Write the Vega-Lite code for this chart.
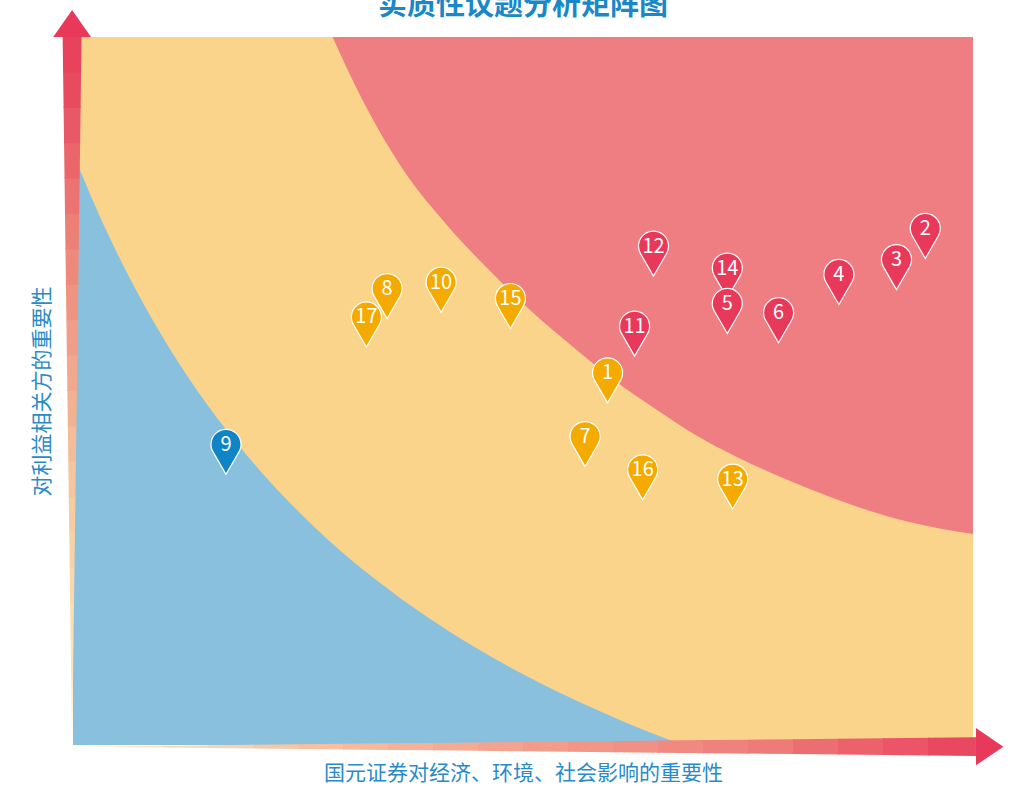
{
  "$schema": "https://vega.github.io/schema/vega-lite/v6.json",
  "width": 900,
  "height": 708,
  "autosize": {"type": "none"},
  "padding": {"left": 73, "top": 37, "right": 44, "bottom": 41},
  "background": "white",
  "config": {
    "view": {"stroke": null},
    "axis": {
      "domain": false,
      "ticks": false,
      "labels": false,
      "grid": false,
      "titleFont": "Noto Sans CJK SC",
      "titleFontSize": 21,
      "titleFontWeight": "normal",
      "titleColor": "#2a8ac8"
    },
    "axisX": {"titlePadding": 17},
    "axisY": {"titlePadding": 21}
  },
  "datasets": {
    "red": [
      {"x": 28.83, "y": 100},
      {"x": 32.11, "y": 91.24},
      {"x": 36.78, "y": 81.07},
      {"x": 41.44, "y": 73.59},
      {"x": 47.11, "y": 65.96},
      {"x": 50.78, "y": 61.44},
      {"x": 55.44, "y": 56.36},
      {"x": 60.11, "y": 51.55},
      {"x": 64.89, "y": 47.32},
      {"x": 69.56, "y": 43.5},
      {"x": 74.22, "y": 40.4},
      {"x": 78.89, "y": 37.71},
      {"x": 83.56, "y": 35.31},
      {"x": 88.22, "y": 33.19},
      {"x": 92.89, "y": 31.5},
      {"x": 100, "y": 29.8}
    ],
    "blue": [
      {"x": 0, "y": 83.69},
      {"x": 0.78, "y": 81.21},
      {"x": 3.0, "y": 74.62},
      {"x": 5.78, "y": 67.23},
      {"x": 8.56, "y": 60.68},
      {"x": 11.33, "y": 54.8},
      {"x": 14.11, "y": 49.49},
      {"x": 18.0, "y": 42.94},
      {"x": 22.44, "y": 36.4},
      {"x": 28.0, "y": 29.39},
      {"x": 33.56, "y": 23.43},
      {"x": 39.11, "y": 18.28},
      {"x": 44.67, "y": 13.79},
      {"x": 50.22, "y": 9.84},
      {"x": 55.78, "y": 6.34},
      {"x": 61.33, "y": 3.22},
      {"x": 67.78, "y": 0}
    ],
    "yarrow": [
      {"seg": "y00", "Y": -0.2, "lo": -0.1, "hi": -0.1},
      {"seg": "y00", "Y": 5.15, "lo": -0.156, "hi": -0.044},
      {"seg": "y01", "Y": 5, "lo": -0.155, "hi": -0.046},
      {"seg": "y01", "Y": 10.15, "lo": -0.209, "hi": 0.009},
      {"seg": "y02", "Y": 10, "lo": -0.207, "hi": 0.007},
      {"seg": "y02", "Y": 15.15, "lo": -0.261, "hi": 0.061},
      {"seg": "y03", "Y": 15, "lo": -0.259, "hi": 0.059},
      {"seg": "y03", "Y": 20.15, "lo": -0.313, "hi": 0.113},
      {"seg": "y04", "Y": 20, "lo": -0.312, "hi": 0.112},
      {"seg": "y04", "Y": 25.15, "lo": -0.366, "hi": 0.166},
      {"seg": "y05", "Y": 25, "lo": -0.364, "hi": 0.164},
      {"seg": "y05", "Y": 30.15, "lo": -0.418, "hi": 0.218},
      {"seg": "y06", "Y": 30, "lo": -0.417, "hi": 0.217},
      {"seg": "y06", "Y": 35.15, "lo": -0.47, "hi": 0.27},
      {"seg": "y07", "Y": 35, "lo": -0.469, "hi": 0.269},
      {"seg": "y07", "Y": 40.15, "lo": -0.523, "hi": 0.323},
      {"seg": "y08", "Y": 40, "lo": -0.521, "hi": 0.321},
      {"seg": "y08", "Y": 45.15, "lo": -0.575, "hi": 0.375},
      {"seg": "y09", "Y": 45, "lo": -0.574, "hi": 0.374},
      {"seg": "y09", "Y": 50.15, "lo": -0.628, "hi": 0.428},
      {"seg": "y10", "Y": 50, "lo": -0.626, "hi": 0.426},
      {"seg": "y10", "Y": 55.15, "lo": -0.68, "hi": 0.48},
      {"seg": "y11", "Y": 55, "lo": -0.678, "hi": 0.478},
      {"seg": "y11", "Y": 60.15, "lo": -0.732, "hi": 0.532},
      {"seg": "y12", "Y": 60, "lo": -0.731, "hi": 0.531},
      {"seg": "y12", "Y": 65.15, "lo": -0.785, "hi": 0.585},
      {"seg": "y13", "Y": 65, "lo": -0.783, "hi": 0.583},
      {"seg": "y13", "Y": 70.15, "lo": -0.837, "hi": 0.637},
      {"seg": "y14", "Y": 70, "lo": -0.836, "hi": 0.636},
      {"seg": "y14", "Y": 75.15, "lo": -0.89, "hi": 0.69},
      {"seg": "y15", "Y": 75, "lo": -0.888, "hi": 0.688},
      {"seg": "y15", "Y": 80.15, "lo": -0.942, "hi": 0.742},
      {"seg": "y16", "Y": 80, "lo": -0.94, "hi": 0.74},
      {"seg": "y16", "Y": 85.15, "lo": -0.994, "hi": 0.794},
      {"seg": "y17", "Y": 85, "lo": -0.993, "hi": 0.793},
      {"seg": "y17", "Y": 90.15, "lo": -1.047, "hi": 0.847},
      {"seg": "y18", "Y": 90, "lo": -1.045, "hi": 0.845},
      {"seg": "y18", "Y": 95.15, "lo": -1.099, "hi": 0.899},
      {"seg": "y19", "Y": 95, "lo": -1.098, "hi": 0.898},
      {"seg": "y19", "Y": 100, "lo": -1.15, "hi": 0.95},
      {"seg": "yh", "Y": 100, "lo": -2.2, "hi": 2.0},
      {"seg": "yh", "Y": 103.8, "lo": -0.1, "hi": -0.1}
    ],
    "xarrow": [
      {"seg": "x00", "X": 0, "lo": -0.23, "hi": -0.23},
      {"seg": "x00", "X": 5.15, "lo": -0.298, "hi": -0.162},
      {"seg": "x01", "X": 5, "lo": -0.296, "hi": -0.164},
      {"seg": "x01", "X": 10.15, "lo": -0.364, "hi": -0.097},
      {"seg": "x02", "X": 10, "lo": -0.362, "hi": -0.098},
      {"seg": "x02", "X": 15.15, "lo": -0.429, "hi": -0.031},
      {"seg": "x03", "X": 15, "lo": -0.427, "hi": -0.033},
      {"seg": "x03", "X": 20.15, "lo": -0.495, "hi": 0.035},
      {"seg": "x04", "X": 20, "lo": -0.493, "hi": 0.033},
      {"seg": "x04", "X": 25.15, "lo": -0.561, "hi": 0.101},
      {"seg": "x05", "X": 25, "lo": -0.559, "hi": 0.099},
      {"seg": "x05", "X": 30.15, "lo": -0.627, "hi": 0.167},
      {"seg": "x06", "X": 30, "lo": -0.625, "hi": 0.165},
      {"seg": "x06", "X": 35.15, "lo": -0.693, "hi": 0.233},
      {"seg": "x07", "X": 35, "lo": -0.691, "hi": 0.231},
      {"seg": "x07", "X": 40.15, "lo": -0.758, "hi": 0.298},
      {"seg": "x08", "X": 40, "lo": -0.756, "hi": 0.296},
      {"seg": "x08", "X": 45.15, "lo": -0.824, "hi": 0.364},
      {"seg": "x09", "X": 45, "lo": -0.822, "hi": 0.362},
      {"seg": "x09", "X": 50.15, "lo": -0.89, "hi": 0.43},
      {"seg": "x10", "X": 50, "lo": -0.888, "hi": 0.428},
      {"seg": "x10", "X": 55.15, "lo": -0.956, "hi": 0.496},
      {"seg": "x11", "X": 55, "lo": -0.954, "hi": 0.494},
      {"seg": "x11", "X": 60.15, "lo": -1.021, "hi": 0.561},
      {"seg": "x12", "X": 60, "lo": -1.019, "hi": 0.559},
      {"seg": "x12", "X": 65.15, "lo": -1.087, "hi": 0.627},
      {"seg": "x13", "X": 65, "lo": -1.085, "hi": 0.625},
      {"seg": "x13", "X": 70.15, "lo": -1.153, "hi": 0.693},
      {"seg": "x14", "X": 70, "lo": -1.151, "hi": 0.691},
      {"seg": "x14", "X": 75.15, "lo": -1.219, "hi": 0.759},
      {"seg": "x15", "X": 75, "lo": -1.217, "hi": 0.757},
      {"seg": "x15", "X": 80.15, "lo": -1.285, "hi": 0.825},
      {"seg": "x16", "X": 80, "lo": -1.283, "hi": 0.823},
      {"seg": "x16", "X": 85.15, "lo": -1.35, "hi": 0.89},
      {"seg": "x17", "X": 85, "lo": -1.348, "hi": 0.888},
      {"seg": "x17", "X": 90.15, "lo": -1.416, "hi": 0.956},
      {"seg": "x18", "X": 90, "lo": -1.414, "hi": 0.954},
      {"seg": "x18", "X": 95.15, "lo": -1.482, "hi": 1.022},
      {"seg": "x19", "X": 95, "lo": -1.48, "hi": 1.02},
      {"seg": "x19", "X": 100.33, "lo": -1.55, "hi": 1.09},
      {"seg": "xh", "X": 100.33, "lo": -2.86, "hi": 2.4},
      {"seg": "xh", "X": 103.37, "lo": -0.23, "hi": -0.23}
    ],
    "topics": [
      {"id": "9", "x": 17.0, "y": 41.4, "level": "低"},
      {"id": "1", "x": 59.4, "y": 51.5, "level": "中"},
      {"id": "7", "x": 56.9, "y": 42.5, "level": "中"},
      {"id": "8", "x": 34.9, "y": 63.4, "level": "中"},
      {"id": "17", "x": 32.6, "y": 59.4, "level": "中"},
      {"id": "10", "x": 40.9, "y": 64.3, "level": "中"},
      {"id": "15", "x": 48.6, "y": 62.0, "level": "中"},
      {"id": "16", "x": 63.3, "y": 37.8, "level": "中"},
      {"id": "13", "x": 73.3, "y": 36.5, "level": "中"},
      {"id": "2", "x": 94.7, "y": 71.9, "level": "高"},
      {"id": "3", "x": 91.5, "y": 67.5, "level": "高"},
      {"id": "4", "x": 85.1, "y": 65.4, "level": "高"},
      {"id": "14", "x": 72.7, "y": 66.3, "level": "高"},
      {"id": "5", "x": 72.7, "y": 61.3, "level": "高"},
      {"id": "6", "x": 78.4, "y": 60.0, "level": "高"},
      {"id": "11", "x": 62.4, "y": 58.1, "level": "高"},
      {"id": "12", "x": 64.5, "y": 69.4, "level": "高"}
    ]
  },
  "layer": [
    {
      "data": {"values": [{}]},
      "mark": {"type": "rect", "color": "#fad48b"},
      "encoding": {
        "x": {"datum": 0, "type": "quantitative", "scale": {"domain": [0, 100], "nice": false, "zero": false}, "title": "国元证券对经济、环境、社会影响的重要性"},
        "x2": {"datum": 100},
        "y": {"datum": 0, "type": "quantitative", "scale": {"domain": [0, 100], "nice": false, "zero": false}, "title": "对利益相关方的重要性"},
        "y2": {"datum": 100}
      }
    },
    {
      "data": {"name": "red"},
      "mark": {"type": "area", "color": "#ef7e82", "orient": "vertical", "interpolate": "monotone"},
      "encoding": {
        "x": {"field": "x", "type": "quantitative", "scale": {"domain": [0, 100], "nice": false, "zero": false}, "title": "国元证券对经济、环境、社会影响的重要性"},
        "y": {"field": "y", "type": "quantitative", "scale": {"domain": [0, 100], "nice": false, "zero": false}, "title": "对利益相关方的重要性"},
        "y2": {"datum": 100}
      }
    },
    {
      "data": {"name": "blue"},
      "mark": {"type": "area", "color": "#89c0de", "orient": "vertical", "interpolate": "monotone"},
      "encoding": {
        "x": {"field": "x", "type": "quantitative", "scale": {"domain": [0, 100], "nice": false, "zero": false}, "title": "国元证券对经济、环境、社会影响的重要性"},
        "y": {"field": "y", "type": "quantitative", "scale": {"domain": [0, 100], "nice": false, "zero": false}, "title": "对利益相关方的重要性"},
        "y2": {"datum": 0}
      }
    },
    {
      "data": {"name": "yarrow"},
      "mark": {"type": "area", "orient": "horizontal", "clip": false, "opacity": 1},
      "encoding": {
        "y": {"field": "Y", "type": "quantitative", "scale": {"domain": [0, 100], "nice": false, "zero": false}, "title": "对利益相关方的重要性"},
        "x": {"field": "lo", "type": "quantitative", "scale": {"domain": [0, 100], "nice": false, "zero": false}, "title": "国元证券对经济、环境、社会影响的重要性"},
        "x2": {"field": "hi"},
        "fill": {
          "field": "seg", "type": "nominal", "legend": null,
          "scale": {
            "domain": ["y00", "y01", "y02", "y03", "y04", "y05", "y06", "y07", "y08", "y09", "y10", "y11", "y12", "y13", "y14", "y15", "y16", "y17", "y18", "y19", "yh", "x00", "x01", "x02", "x03", "x04", "x05", "x06", "x07", "x08", "x09", "x10", "x11", "x12", "x13", "x14", "x15", "x16", "x17", "x18", "x19", "xh"],
            "range": ["#fcefbe", "#fbe9b9", "#fae4b5", "#f9deb0", "#f8d8ac", "#f7d2a7", "#f6cca2", "#f5c69e", "#f4bc98", "#f2b292", "#f1a88d", "#f09e87", "#ee9481", "#ed8a7c", "#ec8076", "#eb7371", "#ea666b", "#e95866", "#e84a60", "#e8425d", "#e8395a", "#fcebbd", "#fbe3b7", "#fadab2", "#f9d1ac", "#f8c8a6", "#f7c0a1", "#f6b99d", "#f5b299", "#f4ab94", "#f3a490", "#f29d8c", "#f29788", "#f19084", "#f08980", "#ef827c", "#ee7b78", "#ed6e72", "#ec616c", "#eb5567", "#e94861", "#e8395a"]
          }
        }
      }
    },
    {
      "data": {"name": "xarrow"},
      "mark": {"type": "area", "orient": "vertical", "clip": false, "opacity": 1},
      "encoding": {
        "x": {"field": "X", "type": "quantitative", "scale": {"domain": [0, 100], "nice": false, "zero": false}, "title": "国元证券对经济、环境、社会影响的重要性"},
        "y": {"field": "lo", "type": "quantitative", "scale": {"domain": [0, 100], "nice": false, "zero": false}, "title": "对利益相关方的重要性"},
        "y2": {"field": "hi"},
        "fill": {
          "field": "seg", "type": "nominal", "legend": null,
          "scale": {
            "domain": ["y00", "y01", "y02", "y03", "y04", "y05", "y06", "y07", "y08", "y09", "y10", "y11", "y12", "y13", "y14", "y15", "y16", "y17", "y18", "y19", "yh", "x00", "x01", "x02", "x03", "x04", "x05", "x06", "x07", "x08", "x09", "x10", "x11", "x12", "x13", "x14", "x15", "x16", "x17", "x18", "x19", "xh"],
            "range": ["#fcefbe", "#fbe9b9", "#fae4b5", "#f9deb0", "#f8d8ac", "#f7d2a7", "#f6cca2", "#f5c69e", "#f4bc98", "#f2b292", "#f1a88d", "#f09e87", "#ee9481", "#ed8a7c", "#ec8076", "#eb7371", "#ea666b", "#e95866", "#e84a60", "#e8425d", "#e8395a", "#fcebbd", "#fbe3b7", "#fadab2", "#f9d1ac", "#f8c8a6", "#f7c0a1", "#f6b99d", "#f5b299", "#f4ab94", "#f3a490", "#f29d8c", "#f29788", "#f19084", "#f08980", "#ef827c", "#ee7b78", "#ed6e72", "#ec616c", "#eb5567", "#e94861", "#e8395a"]
          }
        }
      }
    },
    {
      "data": {"name": "topics"},
      "mark": {
        "type": "point",
        "shape": "M0,1 L-0.577,0 A0.667,0.667 0 1 1 0.577,0 Z",
        "size": 2025,
        "filled": true,
        "opacity": 1,
        "stroke": "white",
        "strokeWidth": 1.2
      },
      "encoding": {
        "x": {"field": "x", "type": "quantitative", "scale": {"domain": [0, 100], "nice": false, "zero": false}, "title": "国元证券对经济、环境、社会影响的重要性"},
        "y": {"field": "y", "type": "quantitative", "scale": {"domain": [0, 100], "nice": false, "zero": false}, "title": "对利益相关方的重要性"},
        "color": {"field": "level", "type": "nominal", "scale": {"domain": ["高", "中", "低"], "range": ["#e8395b", "#f5aa00", "#1085c6"]}, "legend": null}
      }
    },
    {
      "data": {"name": "topics"},
      "mark": {
        "type": "text",
        "dy": -7,
        "fontSize": 20,
        "font": "Noto Sans CJK SC",
        "color": "white",
        "align": "center",
        "baseline": "middle"
      },
      "encoding": {
        "x": {"field": "x", "type": "quantitative", "scale": {"domain": [0, 100], "nice": false, "zero": false}, "title": "国元证券对经济、环境、社会影响的重要性"},
        "y": {"field": "y", "type": "quantitative", "scale": {"domain": [0, 100], "nice": false, "zero": false}, "title": "对利益相关方的重要性"},
        "text": {"field": "id"}
      }
    },
    {
      "data": {"values": [{}]},
      "mark": {
        "type": "text",
        "text": "实质性议题分析矩阵图",
        "fontSize": 29,
        "fontWeight": "bold",
        "font": "Noto Sans CJK SC",
        "color": "#1a88c8",
        "align": "center",
        "baseline": "alphabetic",
        "clip": false
      },
      "encoding": {
        "x": {"datum": 50, "type": "quantitative", "scale": {"domain": [0, 100], "nice": false, "zero": false}, "title": "国元证券对经济、环境、社会影响的重要性"},
        "y": {"datum": 103.1, "type": "quantitative", "scale": {"domain": [0, 100], "nice": false, "zero": false}, "title": "对利益相关方的重要性"}
      }
    }
  ]
}
